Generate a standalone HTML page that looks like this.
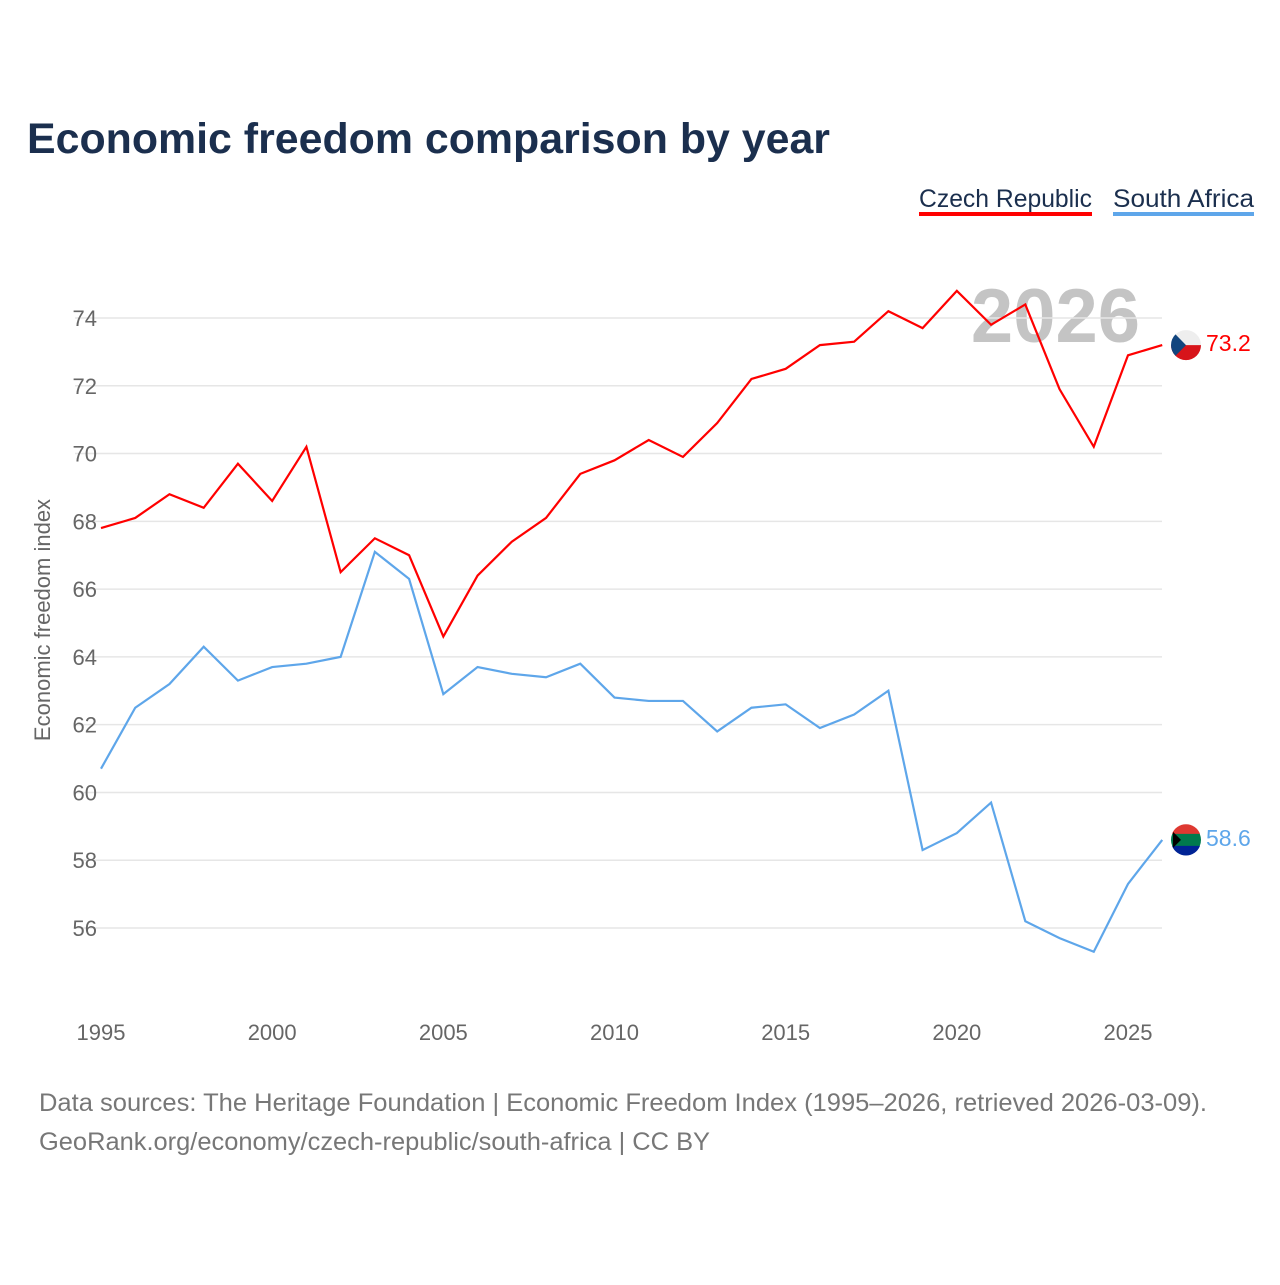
<!DOCTYPE html>
<html><head><meta charset="utf-8"><style>
body{margin:0;background:#fff;font-family:"Liberation Sans",sans-serif;}
svg text{font-family:"Liberation Sans",sans-serif;}
</style></head><body>
<svg id="chart" width="1280" height="1280">
<text x="27" y="153" font-size="43" font-weight="bold" fill="#1b2f4e" textLength="803" lengthAdjust="spacingAndGlyphs">Economic freedom comparison by year</text>
<g><text x="919" y="207" font-size="25" fill="#1b2f4e" textLength="173" lengthAdjust="spacingAndGlyphs">Czech Republic</text><rect x="919" y="212" width="173" height="4" fill="#ff0000"/></g>
<g><text x="1113" y="207" font-size="25" fill="#1b2f4e" textLength="141" lengthAdjust="spacingAndGlyphs">South Africa</text><rect x="1113" y="212" width="141" height="4" fill="#5ea6ea"/></g>
<text x="1140" y="342" font-size="76" font-weight="bold" fill="#c4c4c4" text-anchor="end">2026</text>
<g id="grid"></g><g id="ticks"></g>
<text transform="translate(50,620) rotate(-90)" font-size="22" fill="#666" text-anchor="middle">Economic freedom index</text>
<g id="series"></g>
<text x="39" y="1111" font-size="25" fill="#777" textLength="1168" lengthAdjust="spacingAndGlyphs">Data sources: The Heritage Foundation | Economic Freedom Index (1995–2026, retrieved 2026-03-09).</text>
<text x="39" y="1150" font-size="25" fill="#777" textLength="671" lengthAdjust="spacingAndGlyphs">GeoRank.org/economy/czech-republic/south-africa | CC BY</text>
</svg>
<script>
const years=[1995,1996,1997,1998,1999,2000,2001,2002,2003,2004,2005,2006,2007,2008,2009,2010,2011,2012,2013,2014,2015,2016,2017,2018,2019,2020,2021,2022,2023,2024,2025,2026];
const czech=[67.8,68.1,68.8,68.4,69.7,68.6,70.2,66.5,67.5,67.0,64.6,66.4,67.4,68.1,69.4,69.8,70.4,69.9,70.9,72.2,72.5,73.2,73.3,74.2,73.7,74.8,73.8,74.4,71.9,70.2,72.9,73.2];
const southAfrica=[60.7,62.5,63.2,64.3,63.3,63.7,63.8,64.0,67.1,66.3,62.9,63.7,63.5,63.4,63.8,62.8,62.7,62.7,61.8,62.5,62.6,61.9,62.3,63.0,58.3,58.8,59.7,56.2,55.7,55.3,57.3,58.6];
const yTicks=[56,58,60,62,64,66,68,70,72,74];
const xTicks=[1995,2000,2005,2010,2015,2020,2025];
const NS="http://www.w3.org/2000/svg";
const x=v=>101+(v-1995)*(1128-101)/30;
const y=v=>318+(74-v)*(928-318)/18;
function mk(t,a,p){const e=document.createElementNS(NS,t);for(const k in a)e.setAttribute(k,a[k]);p.appendChild(e);return e;}
const grid=document.getElementById('grid'),ticks=document.getElementById('ticks'),series=document.getElementById('series');
yTicks.forEach(v=>{
 const l=mk('line',{x1:75,x2:1162,y1:y(v),y2:y(v),stroke:'#e6e6e6','stroke-width':1.5},grid);
 
 
 const t=mk('text',{x:97,y:y(v)+8,'font-size':22,fill:'#666','text-anchor':'end'},ticks);t.textContent=v;
 
 
});
xTicks.forEach(v=>{
 const t=mk('text',{x:x(v),y:1040,'font-size':22,fill:'#666','text-anchor':'middle'},ticks);t.textContent=v;
 
 
});
function line(data,color,name,flag){
 const p=mk('polyline',{points:data.map((v,i)=>x(years[i])+','+y(v)).join(' '),fill:'none',stroke:color,'stroke-width':2.2},series);
 
 
 const last=data[data.length-1],cy=y(last);
 const g=mk('g',{},series);
 
 
 if(flag==='cz'){
  mk('circle',{cx:1186,cy:cy,r:15,fill:'#eee'},g);
  mk('path',{d:`M1171 ${cy} A15 15 0 0 0 1201 ${cy} Z`,fill:'#d7141a'},g);
  mk('path',{d:`M${1186-15*0.7} ${cy-10.7} L1186 ${cy} L${1186-15*0.7} ${cy+10.7} A15 15 0 0 1 ${1186-15*0.7} ${cy-10.7}Z`,fill:'#11457e'},g);
 }else{
  mk('circle',{cx:1186,cy:cy,r:15,fill:'#007a4d'},g);
  mk('path',{d:`M1172 ${cy-6} A15 15 0 0 1 1200 ${cy-6} Z`,fill:'#de3831'},g);
  mk('path',{d:`M1172 ${cy+6} A15 15 0 0 0 1200 ${cy+6} Z`,fill:'#002395'},g);
  mk('path',{d:`M1173 ${cy-8} L1181 ${cy} L1173 ${cy+8}Z`,fill:'#000'},g);
 }
 const t=mk('text',{x:1206,y:cy+6,'font-size':23,fill:color},series);t.textContent=last.toFixed(1);
 
 
}
line(czech,'#ff0000','czech','cz');
line(southAfrica,'#5ea6ea','south-africa','za');
</script>
</body></html>
